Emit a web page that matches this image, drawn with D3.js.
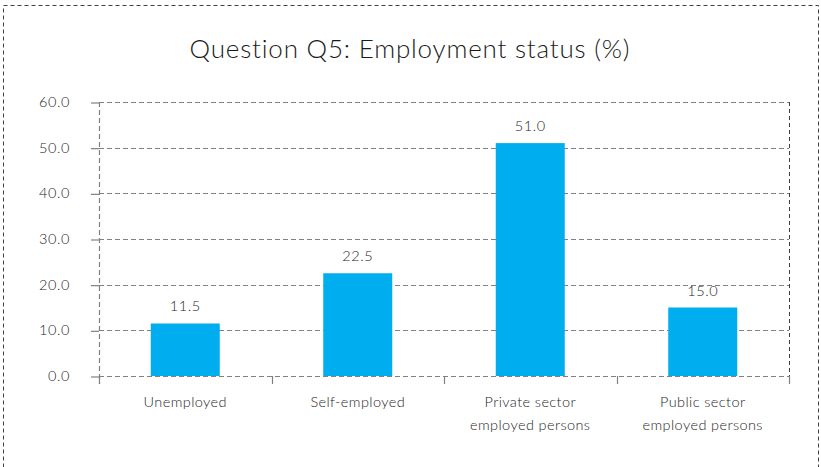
<!DOCTYPE html>
<html>
<head>
<meta charset="utf-8">
<script src="https://cdn.jsdelivr.net/npm/d3@7"></script>
<style>
  html, body { margin: 0; padding: 0; background: #fff; }
  svg { display: block; }
  text { font-family: "Lato", "Open Sans", sans-serif; font-weight: 300; }
</style>
</head>
<body>
<svg id="chart" width="821" height="467"></svg>
<script>
// Employment status shares (%)
const categories = [["Unemployed"], ["Self-employed"], ["Private sector", "employed persons"], ["Public sector", "employed persons"]];
const values = [11.5, 22.5, 51.0, 15.0];
const yTicks = [0, 10, 20, 30, 40, 50, 60];
const title = "Question Q5: Employment status (%)";

const svg = d3.select("#chart");
const W = 821, H = 467;
const margin = { left: 99, right: 32, top: 102, bottom: 91 };
const plotW = W - margin.left - margin.right;
const plotH = H - margin.top - margin.bottom;

const gridColor = "#808080";
const textColor = "#262626";
const barColor = "#00AEEF";

// outer dashed frame
svg.append("rect")
  .attr("x", 3.5).attr("y", 5.5)
  .attr("width", 815).attr("height", 480)
  .attr("fill", "none")
  .attr("stroke", "#404040")
  .attr("stroke-width", 1)
  .attr("stroke-dasharray", "4,3");

svg.append("text")
  .attr("x", 410).attr("y", 58)
  .attr("text-anchor", "middle")
  .attr("font-size", 26)
  .attr("letter-spacing", 0.8)
  .attr("fill", "#1a1a1a")
  .text(title);

const g = svg.append("g").attr("transform", `translate(${margin.left},${margin.top})`);

const x = d3.scaleBand().domain(d3.range(categories.length)).range([0, plotW]).paddingInner(0.6).paddingOuter(0.3);
const xb = d3.scaleBand().domain(d3.range(categories.length)).range([0, plotW]);
const y = d3.scaleLinear().domain([0, 60]).range([plotH, 0]);

// horizontal gridlines
g.selectAll(".grid").data(yTicks.filter(d => d > 0)).join("line")
  .attr("x1", 0).attr("x2", plotW)
  .attr("y1", d => Math.round(y(d)) + 0.5).attr("y2", d => Math.round(y(d)) + 0.5)
  .attr("stroke", gridColor).attr("stroke-width", 1.2)
  .attr("stroke-dasharray", "5,3");

// right border of plot area
g.append("line")
  .attr("x1", plotW + 0.5).attr("x2", plotW + 0.5)
  .attr("y1", 0).attr("y2", plotH)
  .attr("stroke", "#404040").attr("stroke-width", 1)
  .attr("stroke-dasharray", "4,3");

// bars
g.selectAll(".bar").data(values).join("rect")
  .attr("x", (d, i) => x(i))
  .attr("y", d => y(d))
  .attr("width", x.bandwidth())
  .attr("height", d => plotH - y(d))
  .attr("fill", barColor);

// value labels
g.selectAll(".val").data(values).join("text")
  .attr("x", (d, i) => x(i) + x.bandwidth() / 2)
  .attr("y", d => y(d) - 12)
  .attr("text-anchor", "middle")
  .attr("font-size", 14.5)
  .attr("letter-spacing", 0.6)
  .attr("fill", textColor)
  .text(d => d.toFixed(1));

// y axis
const yAxis = g.append("g")
  .call(d3.axisLeft(y).tickValues(yTicks).tickFormat(d3.format(".1f")).tickSize(8).tickPadding(21));
yAxis.select(".domain").remove();
yAxis.selectAll(".tick line").attr("stroke", gridColor).attr("stroke-width", 1.2).attr("transform", "translate(0,0.5)");
yAxis.selectAll(".tick text").attr("font-size", 14.5).attr("fill", textColor)
  .attr("letter-spacing", 0.6)
  .attr("font-family", "Lato, sans-serif").attr("font-weight", 300);
g.append("line")
  .attr("x1", 0.5).attr("x2", 0.5).attr("y1", 0).attr("y2", plotH + 8)
  .attr("stroke", gridColor).attr("stroke-width", 1.2).attr("stroke-dasharray", "5,3");

// x axis baseline and category boundary ticks
g.append("line")
  .attr("x1", 0).attr("x2", plotW)
  .attr("y1", plotH + 0.5).attr("y2", plotH + 0.5)
  .attr("stroke", gridColor).attr("stroke-width", 1.2).attr("stroke-dasharray", "5,3");
const bounds = d3.range(categories.length + 1).map(i => i < categories.length ? xb(i) : plotW);
g.selectAll(".xtick").data(bounds).join("line")
  .attr("x1", d => Math.round(d) + 0.5).attr("x2", d => Math.round(d) + 0.5)
  .attr("y1", plotH).attr("y2", plotH + 8)
  .attr("stroke", gridColor).attr("stroke-width", 1.2);

// category labels
const lbl = g.selectAll(".cat").data(categories).join("text")
  .attr("x", (d, i) => xb(i) + xb.bandwidth() / 2)
  .attr("y", plotH + 31)
  .attr("text-anchor", "middle")
  .attr("font-size", 14.5)
  .attr("letter-spacing", 0.4)
  .attr("fill", textColor);
lbl.selectAll("tspan").data(d => d).join("tspan")
  .attr("x", function () { return d3.select(this.parentNode).attr("x"); })
  .attr("dy", (d, i) => i === 0 ? 0 : 23)
  .text(d => d);
</script>
</body>
</html>
